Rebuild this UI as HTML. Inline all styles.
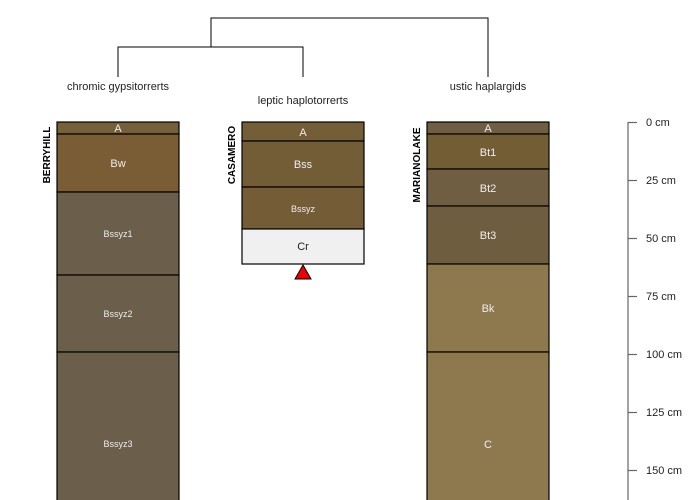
<!DOCTYPE html>
<html><head><style>body{margin:0;background:#fff}svg{display:block}</style></head><body>
<svg width="700" height="500" xmlns="http://www.w3.org/2000/svg" font-family="Liberation Sans, sans-serif">
<g stroke="#000" stroke-width="1" fill="none">
<path d="M211 47V18H488V77"/>
<path d="M118 77V47H303V77"/>
</g>
<g font-size="11" fill="#222" text-anchor="middle">
<text x="118" y="90">chromic gypsitorrerts</text>
<text x="303" y="104">leptic haplotorrerts</text>
<text x="488" y="90">ustic haplargids</text>
</g>
<g stroke="#000" stroke-width="1.2">
<rect x="57" y="122" width="122" height="12" fill="#75603a"/>
<rect x="57" y="134" width="122" height="58" fill="#7a5c35"/>
<rect x="57" y="192" width="122" height="83" fill="#6b5e4a"/>
<rect x="57" y="275" width="122" height="77" fill="#6b5e4a"/>
<rect x="57" y="352" width="122" height="150" fill="#6b5e4a"/>
<rect x="242" y="122" width="122" height="19" fill="#745e38"/>
<rect x="242" y="141" width="122" height="46" fill="#735d37"/>
<rect x="242" y="187" width="122" height="42" fill="#745c36"/>
<rect x="242" y="229" width="122" height="35" fill="#f0f0f0"/>
<rect x="427" y="122" width="122" height="12" fill="#6f5e42"/>
<rect x="427" y="134" width="122" height="35" fill="#735d35"/>
<rect x="427" y="169" width="122" height="37" fill="#6f5e42"/>
<rect x="427" y="206" width="122" height="58" fill="#6f5d40"/>
<rect x="427" y="264" width="122" height="88" fill="#8e784e"/>
<rect x="427" y="352" width="122" height="150" fill="#8e784e"/>
</g>
<polygon points="303,265 295,279 311,279" fill="#e00" stroke="#000" stroke-width="1"/>
<g fill="#eee" text-anchor="middle" font-size="11">
<text x="118" y="132">A</text>
<text x="118" y="167">Bw</text>
<text x="118" y="237" font-size="9">Bssyz1</text>
<text x="118" y="317" font-size="9">Bssyz2</text>
<text x="118" y="447" font-size="9">Bssyz3</text>
<text x="303" y="136">A</text>
<text x="303" y="168">Bss</text>
<text x="303" y="212" font-size="9">Bssyz</text>
<text x="303" y="250" fill="#222">Cr</text>
<text x="488" y="132">A</text>
<text x="488" y="156">Bt1</text>
<text x="488" y="192">Bt2</text>
<text x="488" y="239">Bt3</text>
<text x="488" y="312">Bk</text>
<text x="488" y="448">C</text>
</g>
<g font-size="10" font-weight="bold" fill="#000" text-anchor="middle">
<text transform="translate(50,155) rotate(-90)">BERRYHILL</text>
<text transform="translate(235,155) rotate(-90)">CASAMERO</text>
<text transform="translate(420,165) rotate(-90)">MARIANOLAKE</text>
</g>
<g stroke="#666" stroke-width="1.2">
<line x1="628" y1="122" x2="628" y2="500"/>
<line x1="628" y1="122.5" x2="637" y2="122.5"/>
<line x1="628" y1="180.5" x2="637" y2="180.5"/>
<line x1="628" y1="238.5" x2="637" y2="238.5"/>
<line x1="628" y1="296.5" x2="637" y2="296.5"/>
<line x1="628" y1="354.5" x2="637" y2="354.5"/>
<line x1="628" y1="412.5" x2="637" y2="412.5"/>
<line x1="628" y1="470.5" x2="637" y2="470.5"/>
</g>
<g font-size="11" fill="#222">
<text x="646" y="126">0 cm</text>
<text x="646" y="184">25 cm</text>
<text x="646" y="242">50 cm</text>
<text x="646" y="300">75 cm</text>
<text x="646" y="358">100 cm</text>
<text x="646" y="416">125 cm</text>
<text x="646" y="474">150 cm</text>
</g>
</svg>
</body></html>
